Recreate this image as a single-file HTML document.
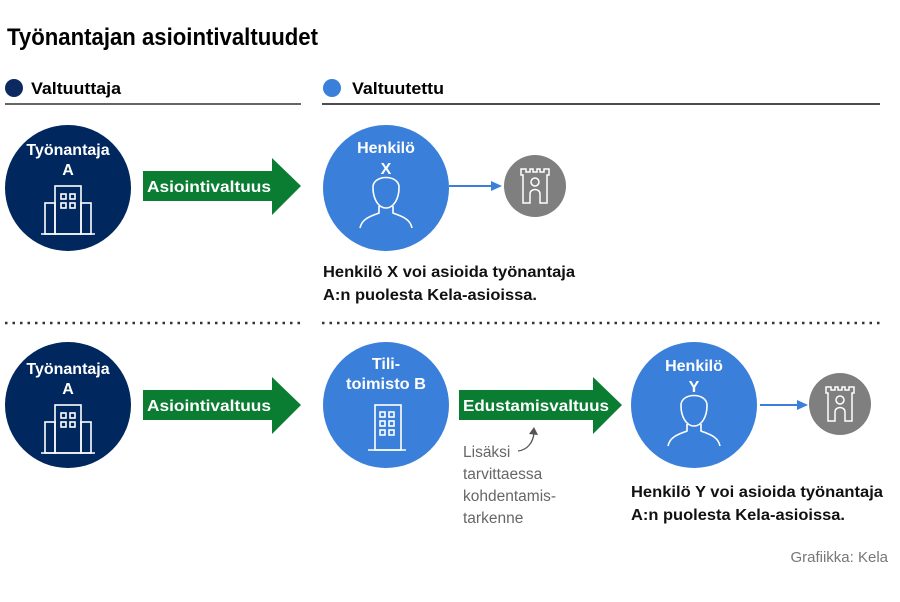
<!DOCTYPE html>
<html><head><meta charset="utf-8"><style>
html,body{margin:0;padding:0;background:#fff;width:900px;height:602px;overflow:hidden}
svg{display:block}
text{font-family:"Liberation Sans Narrow","Liberation Sans",sans-serif}
.b{font-weight:bold}
</style></head><body>
<svg width="900" height="602" viewBox="0 0 900 602">
<defs>
<g id="bld" fill="none" stroke="#fff" stroke-width="1.6">
<rect x="-13" y="-19" width="26" height="48"/>
<rect x="-23" y="-2" width="10" height="31"/>
<rect x="13" y="-2" width="10" height="31"/>
<line x1="-27" y1="29" x2="27" y2="29"/>
<rect x="-7" y="-11" width="5" height="5"/><rect x="2" y="-11" width="5" height="5"/>
<rect x="-7" y="-2" width="5" height="5"/><rect x="2" y="-2" width="5" height="5"/>
</g>
<g id="person" fill="none" stroke="#fff" stroke-width="1.6">
<path d="M-13,-16 C-14,-30 14,-30 13,-16 C13,-6 8,4 0,4 C-8,4 -13,-6 -13,-16 Z"/>
<path d="M-7,2 L-7,9 C-14,12 -24,14 -26,24 M7,2 L7,9 C14,12 24,14 26,24"/>
</g>
<g id="kela">
<circle r="31" fill="#7f7f7f"/>
<path d="M-14,-17 L-14,-11 L-12,-11 L-12,17 L-5,17 L-5,8 C-5,2 5,2 5,8 L5,17 L12,17 L12,-11 L14,-11 L14,-17 L9,-17 L9,-14 L5,-14 L5,-17 L2,-17 L2,-14 L-2,-14 L-2,-17 L-5,-17 L-5,-14 L-9,-14 L-9,-17 Z" fill="none" stroke="#fff" stroke-width="1.5"/>
<circle cx="0" cy="-4" r="4" fill="none" stroke="#fff" stroke-width="1.5"/>
</g>
</defs>

<text x="7" y="45" class="b" font-size="24" textLength="311" lengthAdjust="spacingAndGlyphs">Työnantajan asiointivaltuudet</text>

<circle cx="14" cy="88" r="9" fill="#0c2a5f"/>
<text x="31" y="94" class="b" font-size="17" textLength="90" lengthAdjust="spacingAndGlyphs">Valtuuttaja</text>
<line x1="5" y1="104" x2="301" y2="104" stroke="#333" stroke-width="1.5"/>
<circle cx="332" cy="88" r="9" fill="#3a7fd9"/>
<text x="352" y="94" class="b" font-size="17" textLength="92" lengthAdjust="spacingAndGlyphs">Valtuutettu</text>
<line x1="322" y1="104" x2="880" y2="104" stroke="#111" stroke-width="1.5"/>

<!-- Row 1 -->
<circle cx="68" cy="188" r="63" fill="#00275e"/>
<text x="68" y="155" class="b" font-size="16" fill="#fff" text-anchor="middle">Työnantaja</text>
<text x="68" y="175" class="b" font-size="16" fill="#fff" text-anchor="middle">A</text>
<use href="#bld" x="68" y="205"/>
<polygon points="143,171 272,171 272,158 301,186 272,215 272,201 143,201" fill="#0a7d33"/>
<text x="147" y="192" class="b" font-size="16" fill="#fff" textLength="124" lengthAdjust="spacingAndGlyphs">Asiointivaltuus</text>

<circle cx="386" cy="188" r="63" fill="#3a7fd9"/>
<text x="386" y="153" class="b" font-size="16" fill="#fff" text-anchor="middle">Henkilö</text>
<text x="386" y="174" class="b" font-size="16" fill="#fff" text-anchor="middle">X</text>
<use href="#person" x="386" y="204"/>
<line x1="449" y1="186" x2="492" y2="186" stroke="#3a7fd9" stroke-width="2"/>
<polygon points="491,181 502,186 491,191" fill="#3a7fd9"/>
<use href="#kela" x="535" y="186"/>
<text x="323" y="277" class="b" font-size="16" fill="#111" textLength="252" lengthAdjust="spacingAndGlyphs">Henkilö X voi asioida työnantaja</text>
<text x="323" y="300" class="b" font-size="16" fill="#111" textLength="214" lengthAdjust="spacingAndGlyphs">A:n puolesta Kela-asioissa.</text>

<line x1="5" y1="323" x2="301" y2="323" stroke="#333" stroke-width="2.5" stroke-dasharray="2.5 5"/>
<line x1="322" y1="323" x2="882" y2="323" stroke="#333" stroke-width="2.5" stroke-dasharray="2.5 5"/>

<!-- Row 2 -->
<circle cx="68" cy="405" r="63" fill="#00275e"/>
<text x="68" y="374" class="b" font-size="16" fill="#fff" text-anchor="middle">Työnantaja</text>
<text x="68" y="394" class="b" font-size="16" fill="#fff" text-anchor="middle">A</text>
<use href="#bld" x="68" y="424"/>
<polygon points="143,390 272,390 272,377 301,405 272,434 272,420 143,420" fill="#0a7d33"/>
<text x="147" y="411" class="b" font-size="16" fill="#fff" textLength="124" lengthAdjust="spacingAndGlyphs">Asiointivaltuus</text>

<circle cx="386" cy="405" r="63" fill="#3a7fd9"/>
<text x="386" y="369" class="b" font-size="16" fill="#fff" text-anchor="middle">Tili-</text>
<text x="386" y="389" class="b" font-size="16" fill="#fff" text-anchor="middle" textLength="80" lengthAdjust="spacingAndGlyphs">toimisto B</text>
<g fill="none" stroke="#fff" stroke-width="1.6">
<rect x="375" y="405" width="26" height="45"/>
<line x1="368" y1="450" x2="406" y2="450"/>
<rect x="380" y="412" width="5" height="5"/><rect x="389" y="412" width="5" height="5"/>
<rect x="380" y="421" width="5" height="5"/><rect x="389" y="421" width="5" height="5"/>
<rect x="380" y="430" width="5" height="5"/><rect x="389" y="430" width="5" height="5"/>
</g>
<polygon points="459,390 593,390 593,377 622,405 593,434 593,420 459,420" fill="#0a7d33"/>
<text x="463" y="411" class="b" font-size="16" fill="#fff" textLength="146" lengthAdjust="spacingAndGlyphs">Edustamisvaltuus</text>
<path d="M518,451 C527,450 533,443 534,433" fill="none" stroke="#555" stroke-width="1.3"/>
<polygon points="529,434 534,427 538,435" fill="#555"/>
<g font-size="15.5" fill="#666">
<text x="463" y="457">Lisäksi</text>
<text x="463" y="479">tarvittaessa</text>
<text x="463" y="501">kohdentamis-</text>
<text x="463" y="523">tarkenne</text>
</g>

<circle cx="694" cy="405" r="63" fill="#3a7fd9"/>
<text x="694" y="371" class="b" font-size="16" fill="#fff" text-anchor="middle">Henkilö</text>
<text x="694" y="392" class="b" font-size="16" fill="#fff" text-anchor="middle">Y</text>
<use href="#person" x="694" y="422"/>
<line x1="760" y1="405" x2="798" y2="405" stroke="#3a7fd9" stroke-width="2"/>
<polygon points="797,400 808,405 797,410" fill="#3a7fd9"/>
<use href="#kela" x="840" y="404"/>
<text x="631" y="497" class="b" font-size="16" fill="#111" textLength="252" lengthAdjust="spacingAndGlyphs">Henkilö Y voi asioida työnantaja</text>
<text x="631" y="520" class="b" font-size="16" fill="#111" textLength="214" lengthAdjust="spacingAndGlyphs">A:n puolesta Kela-asioissa.</text>

<text x="888" y="562" font-size="15" fill="#777" text-anchor="end">Grafiikka: Kela</text>
</svg>
</body></html>
